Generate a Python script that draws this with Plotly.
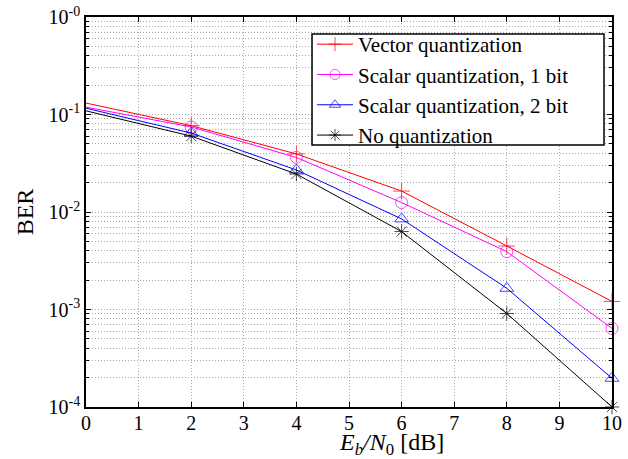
import plotly.graph_objects as go

ebn0 = [0, 2, 4, 6, 8, 10]
vector_q = [0.131, 0.0768, 0.0394, 0.0164, 0.00448, 0.00121]
scalar_1bit = [0.119, 0.0745, 0.0363, 0.0125, 0.00392, 0.00064]
scalar_2bit = [0.116, 0.0645, 0.0270, 0.0085, 0.00165, 0.000197]
no_q = [0.109, 0.0600, 0.0245, 0.0063, 0.00091, 0.000100]

names = ["Vector quantization", "Scalar quantization, 1 bit",
         "Scalar quantization, 2 bit", "No quantization"]
series = [vector_q, scalar_1bit, scalar_2bit, no_q]
colors = ["#FF0000", "#FF00FF", "#0000FF", "#000000"]
symbols = ["cross-thin-open", "circle-open", "triangle-up-open", "asterisk-open"]

ytickvals = [1e-4, 1e-3, 1e-2, 1e-1, 1e0]
yticktext = ["10<sup>-4</sup>", "10<sup>-3</sup>", "10<sup>-2</sup>",
             "10<sup>-1</sup>", "10<sup>-0</sup>"]

x_title = "<i>E</i><sub><i>b</i></sub><i>/N</i><sub>0</sub> [dB]"

GRID = "#a8a8a8"
DASH = "1px,2px"

fig = go.Figure()
for name, ys, c, s in zip(names, series, colors, symbols):
    sizes = [0] + [12] * (len(ys) - 1)
    fig.add_trace(go.Scatter(
        x=ebn0, y=ys, name=name, mode="lines+markers",
        line=dict(color=c, width=1),
        marker=dict(symbol=s, size=sizes, color=c, line=dict(color=c, width=1)),
        cliponaxis=False,
    ))

# legend frame (white box with black border, as in the MATLAB figure)
fig.add_shape(type="rect", xref="paper", yref="paper",
              x0=0.4297, x1=0.9848, y0=0.6718, y1=0.9564,
              line=dict(color="black", width=1.5), fillcolor="white",
              layer="above")

fig.add_annotation(text=x_title, xref="paper", yref="paper",
                   x=0.58, y=-0.094, xanchor="center", yanchor="middle",
                   showarrow=False, font=dict(size=24))

fig.update_layout(
    width=628, height=459,
    margin=dict(l=86, r=16, t=17, b=52),
    paper_bgcolor="white", plot_bgcolor="white",
    font=dict(family="Liberation Serif", size=20, color="black"),
    showlegend=True,
    legend=dict(x=0.4297, y=0.982, xanchor="left", yanchor="top",
                borderwidth=0, bgcolor="rgba(0,0,0,0)",
                font=dict(size=21), tracegroupgap=0, itemwidth=36),
)
fig.update_xaxes(
    range=[0, 10], tickmode="linear", tick0=0, dtick=1,
    showgrid=True, gridcolor=GRID, griddash=DASH, gridwidth=1,
    showline=True, linecolor="black", linewidth=1.5, mirror="allticks",
    ticks="inside", ticklen=5, tickcolor="black",
    zeroline=False, automargin=False,
    tickfont=dict(size=20), ticklabelstandoff=-3,
)
fig.update_yaxes(
    type="log", range=[-4, 0], tickmode="array",
    tickvals=ytickvals, ticktext=yticktext,
    showgrid=True, gridcolor=GRID, griddash=DASH, gridwidth=1,
    minor=dict(dtick="D1", showgrid=True, gridcolor=GRID, griddash=DASH,
               ticks="inside", ticklen=3, tickcolor="black"),
    showline=True, linecolor="black", linewidth=1.5, mirror="allticks",
    ticks="inside", ticklen=5, tickcolor="black",
    zeroline=False, automargin=False,
    tickfont=dict(size=20), ticklabelstandoff=0,
    title=dict(text="BER", font=dict(size=24), standoff=8),
)

fig.write_html("out.html", config={"displayModeBar": False},
               post_script="document.body.style.margin='0';")
